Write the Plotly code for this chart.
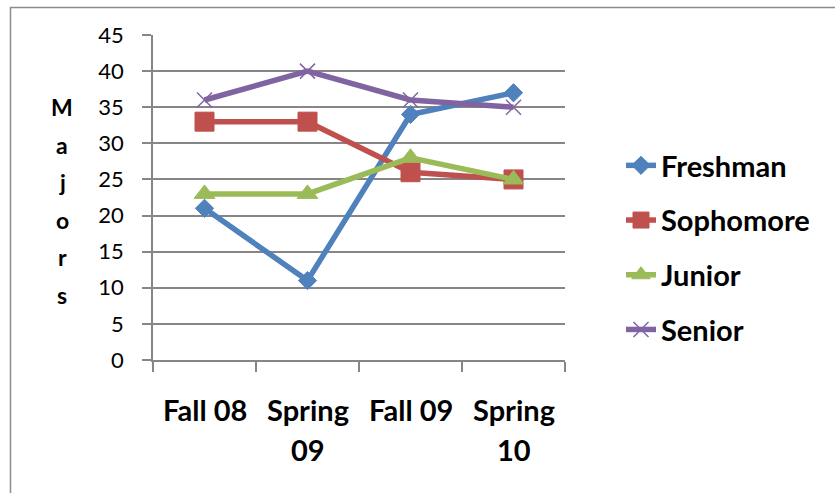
import plotly.graph_objects as go

# Enrollment of majors by term
terms = ["Fall 08", "Spring 09", "Fall 09", "Spring 10"]
term_lines = [["Fall 08"], ["Spring", "09"], ["Fall 09"], ["Spring", "10"]]
freshman = [21, 11, 34, 37]
sophomore = [33, 33, 26, 25]
junior = [23, 23, 28, 25]
senior = [36, 40, 36, 35]
y_ticks = [0, 5, 10, 15, 20, 25, 30, 35, 40, 45]
y_title = "Majors"

W, H = 835, 493
L, R, T, B = 153, 270, 35, 133
PW, PH = W - L - R, H - T - B

def px_x(x):
    return (x - L) / PW

def px_y(y):
    return (H - B - y) / PH

series = [
    ("Freshman", freshman, "#4F81BD", dict(symbol="diamond", size=14)),
    ("Sophomore", sophomore, "#C0504D", dict(symbol="square", size=19)),
    ("Junior", junior, "#9BBB59", dict(symbol="triangle-up", size=18)),
    ("Senior", senior, "#8064A2", dict(symbol="x-thin", size=15, line=dict(width=1.5))),
]

fig = go.Figure()
for name, vals, color, mk in series:
    marker = dict(color=color, **mk)
    if "line" in marker:
        marker["line"]["color"] = color
    else:
        marker["line"] = dict(width=1, color=color)
    fig.add_trace(go.Scatter(
        x=terms, y=vals, name=name, mode="lines+markers",
        line=dict(color=color, width=5.5), marker=marker,
        legendgroup=name,
    ))

grid = "#868686"
fig.update_xaxes(
    type="category", range=[-0.5, 3.5], showgrid=False,
    showline=True, linecolor=grid, linewidth=1.5,
    ticks="outside", tickson="boundaries", ticklen=10, tickcolor=grid, tickwidth=1.5,
    showticklabels=False, fixedrange=True,
)
fig.update_yaxes(
    range=[0, 45], tickvals=y_ticks, showgrid=True, gridcolor=grid, gridwidth=1.5,
    showline=True, linecolor=grid, linewidth=1.5, zeroline=False,
    ticks="outside", ticklen=9, tickcolor=grid, tickwidth=1.5,
    ticklabelstandoff=14,
    tickfont=dict(family="Lato", size=22, color="#000000"),
)

annotations = []
# category labels, wrapped as in the source workbook
for term, lines in zip(terms, term_lines):
    for i, line in enumerate(lines):
        annotations.append(dict(
            x=term, xref="x", y=px_y(410 + 40 * i), yref="paper",
            text=line, showarrow=False, xanchor="center", yanchor="middle",
            font=dict(family="Lato", size=29, color="#000000", weight="bold"),
        ))
# stacked vertical axis title
for i, ch in enumerate(y_title):
    annotations.append(dict(
        x=px_x(62), xref="paper", y=px_y(107 + 37.6 * i), yref="paper",
        text=ch, showarrow=False, xanchor="center", yanchor="middle",
        font=dict(family="Lato", size=23, color="#000000", weight="bold"),
    ))

fig.update_layout(
    width=W, height=H,
    margin=dict(l=L, r=R, t=T, b=B),
    paper_bgcolor="#FFFFFF", plot_bgcolor="#FFFFFF",
    font=dict(family="Lato", color="#000000"),
    showlegend=True,
    legend=dict(
        x=px_x(621), xanchor="left", y=px_y(140), yanchor="top",
        font=dict(family="Lato", size=29, color="#000000", weight="bold"),
        tracegroupgap=14, bgcolor="rgba(0,0,0,0)", borderwidth=0,
    ),
    annotations=annotations,
    shapes=[dict(
        type="rect", xref="paper", yref="paper",
        x0=px_x(10.5), x1=px_x(W + 20), y0=px_y(H + 20), y1=px_y(7.5),
        line=dict(color="#8C8C8C", width=1.5), fillcolor="rgba(0,0,0,0)", layer="below",
    )],
)

fig.write_html("out.html")
